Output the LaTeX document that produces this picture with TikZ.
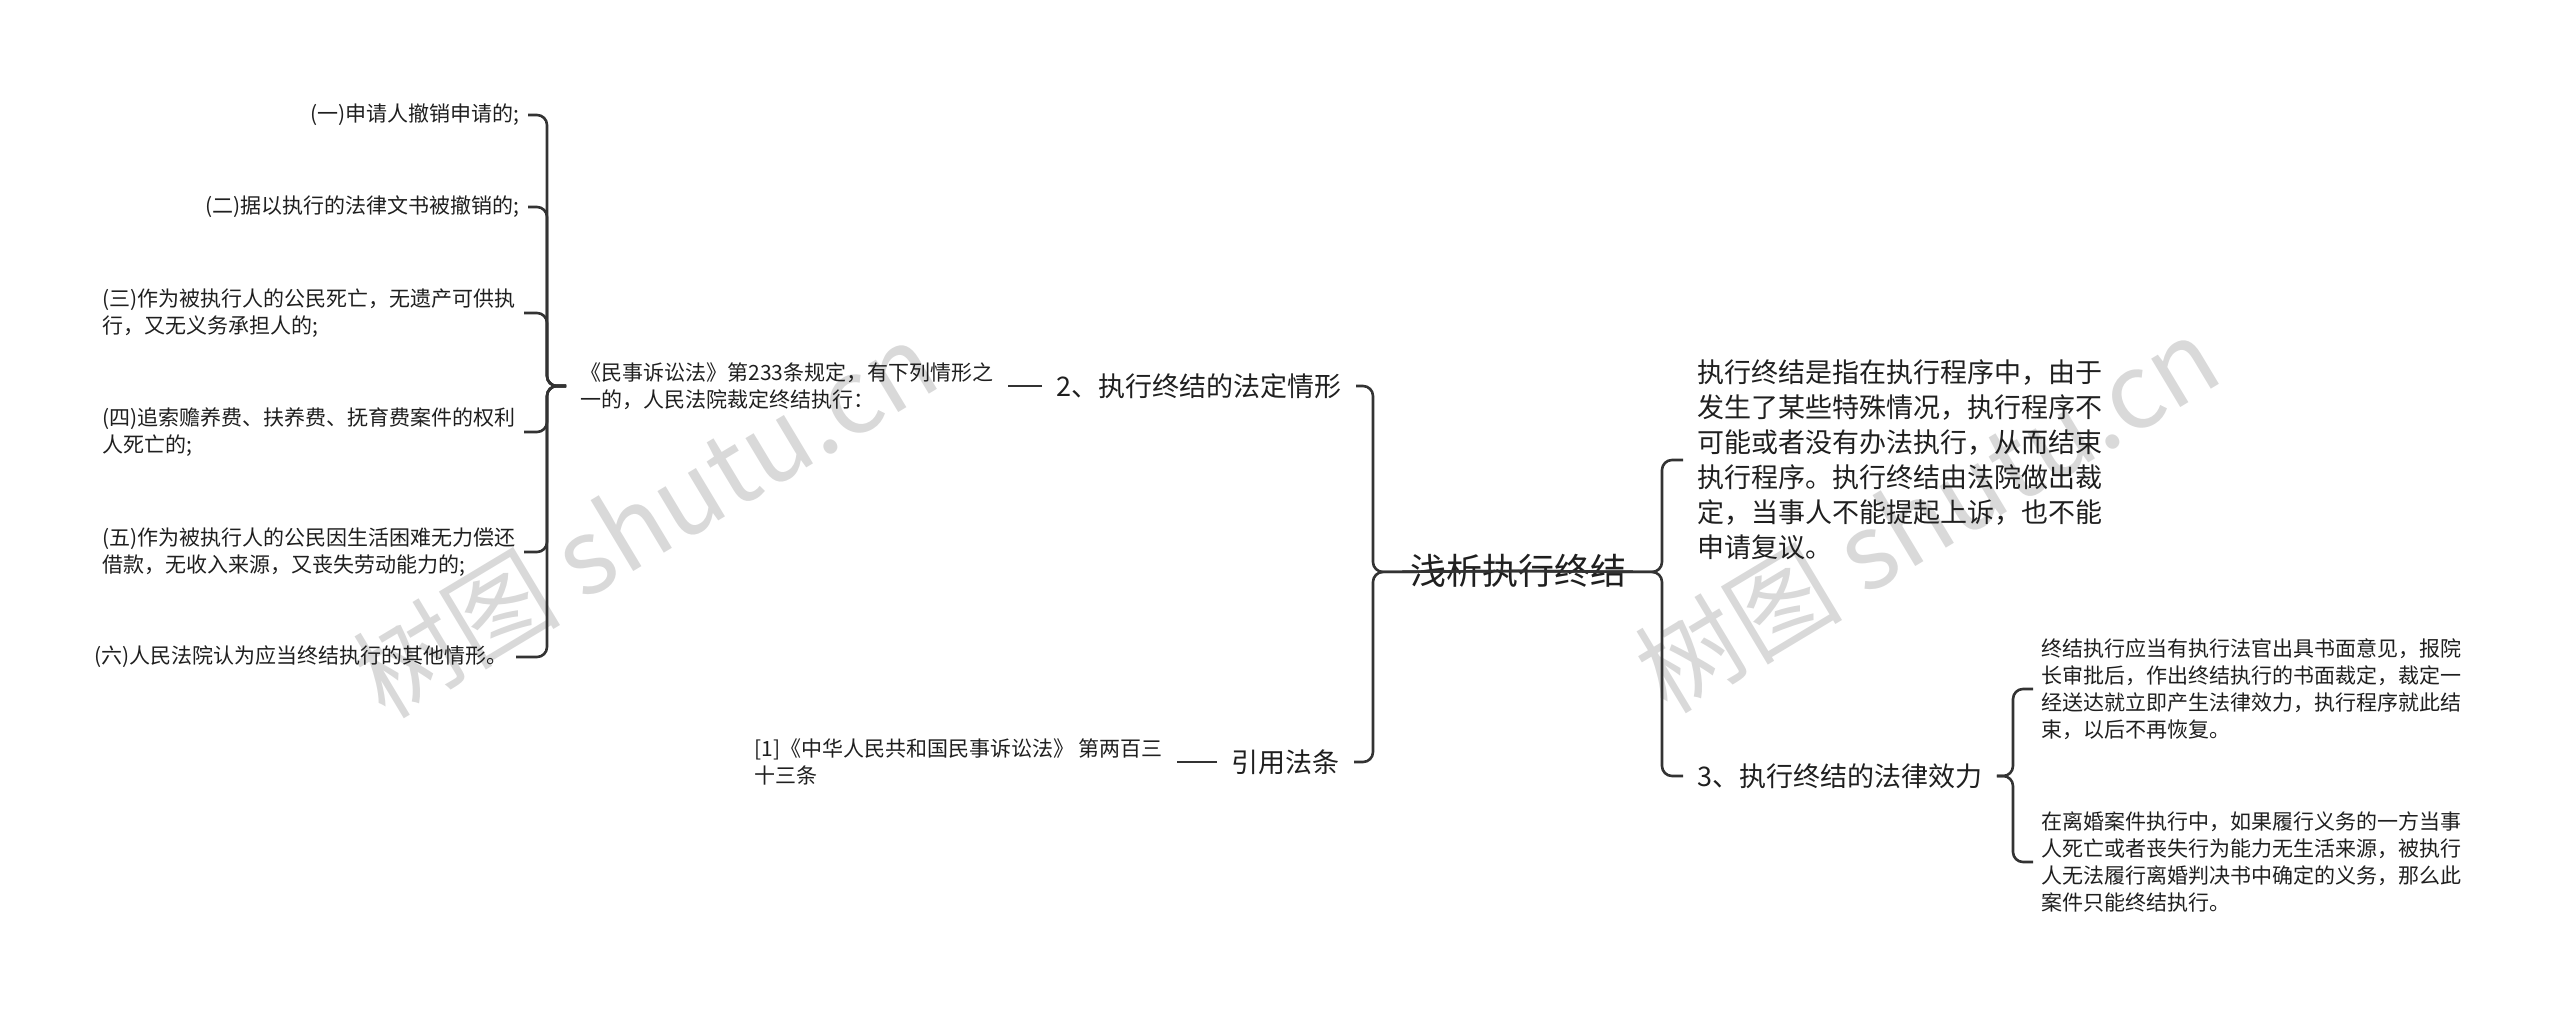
\documentclass[tikz,border=0pt]{standalone}
\usepackage{fontspec}
\setmainfont{Noto Sans CJK SC}
\begin{document}
\begin{tikzpicture}[x=0.5pt,y=-0.5pt,
  conn/.style={draw=black!80, line width=1.3pt, rounded corners=5pt},
  topic/.style={font=\fontsize{18}{22}\selectfont, text=black!88, inner sep=2pt},
  mid/.style={font=\fontsize{13.5}{17.5}\selectfont, text=black!88, inner xsep=7pt, inner ysep=2pt, align=left},
  leaf/.style={font=\fontsize{10.5}{13.5}\selectfont, text=black!88, inner xsep=4pt, inner ysep=2pt, align=left},
  wmark/.style={font=\fontsize{52}{52}\selectfont, text=black!15, rotate=31}]
\useasboundingbox (0,0) rectangle (2560,1016);
\node[wmark] (wm1) at (645,519) {树图 shutu.cn};
\node[wmark] (wm2) at (1927,514) {树图 shutu.cn};
\node[topic] (root) at (1518,571) {浅析执行终结};
\coordinate (rootL) at (1373,572);
\coordinate (rootR) at (1662,572);
\node[mid, anchor=east] (sec2) at (1356,386) {2、执行终结的法定情形};
\node[mid, anchor=east] (ref) at (1354,762) {引用法条};
\node[mid, anchor=west] (def) at (1683,460) {执行终结是指在执行程序中，由于\\发生了某些特殊情况，执行程序不\\可能或者没有办法执行，从而结束\\执行程序。执行终结由法院做出裁\\定，当事人不能提起上诉，也不能\\申请复议。};
\node[mid, anchor=west] (sec3) at (1683,776) {3、执行终结的法律效力};
\draw[conn] (root.center) -- (rootL) |- (sec2.east);
\draw[conn] (root.center) -- (rootL) |- (ref.east);
\draw[conn] (root.center) -- (rootR) |- (def.west);
\draw[conn] (root.center) -- (rootR) |- (sec3.west);
\node[mid, font=\fontsize{10.5}{13.5}\selectfont, anchor=west] (law233) at (566,386) {《民事诉讼法》第233条规定，有下列情形之\\一的，人民法院裁定终结执行：};
\node[mid, font=\fontsize{10.5}{13.5}\selectfont, anchor=west] (ref233) at (740,762) {[1]《中华人民共和国民事诉讼法》 第两百三\\十三条};
\draw[conn] (sec2.west) -- (law233.east);
\draw[conn] (ref.west) -- (ref233.east);
\coordinate (lsp) at (547,386);
\node[leaf, anchor=east] (it1) at (528,115) {(一)申请人撤销申请的;};
\node[leaf, anchor=east] (it2) at (528,207) {(二)据以执行的法律文书被撤销的;};
\node[leaf, anchor=west] (it3) at (94,313) {(三)作为被执行人的公民死亡，无遗产可供执\\行，又无义务承担人的;};
\node[leaf, anchor=west] (it4) at (94,432) {(四)追索赡养费、扶养费、抚育费案件的权利\\人死亡的;};
\node[leaf, anchor=west] (it5) at (94,552) {(五)作为被执行人的公民因生活困难无力偿还\\借款，无收入来源，又丧失劳动能力的;};
\node[leaf, anchor=east] (it6) at (516,657) {(六)人民法院认为应当终结执行的其他情形。};
\draw[conn] (law233.west) -- (lsp) |- (it1.east);
\draw[conn] (law233.west) -- (lsp) |- (it2.east);
\draw[conn] (law233.west) -- (lsp) |- (it3.east);
\draw[conn] (law233.west) -- (lsp) |- (it4.east);
\draw[conn] (law233.west) -- (lsp) |- (it5.east);
\draw[conn] (law233.west) -- (lsp) |- (it6.east);
\coordinate (rsp) at (2013,776);
\node[leaf, anchor=west] (lf1) at (2033,689) {终结执行应当有执行法官出具书面意见，报院\\长审批后，作出终结执行的书面裁定，裁定一\\经送达就立即产生法律效力，执行程序就此结\\束，以后不再恢复。};
\node[leaf, anchor=west] (lf2) at (2033,862) {在离婚案件执行中，如果履行义务的一方当事\\人死亡或者丧失行为能力无生活来源，被执行\\人无法履行离婚判决书中确定的义务，那么此\\案件只能终结执行。};
\draw[conn] (sec3.east) -- (rsp) |- (lf1.west);
\draw[conn] (sec3.east) -- (rsp) |- (lf2.west);
\end{tikzpicture}
\end{document}
